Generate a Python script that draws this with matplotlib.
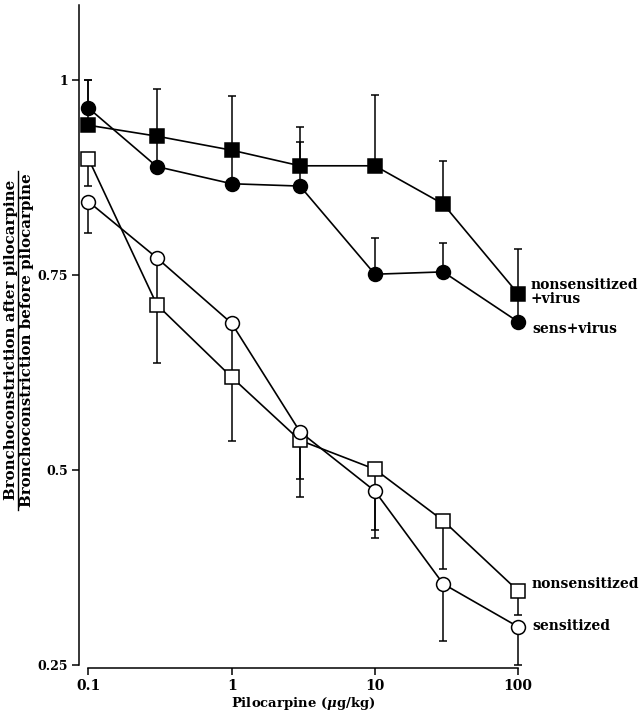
import matplotlib
matplotlib.use("Agg")
import matplotlib.pyplot as plt
from matplotlib.lines import Line2D

plt.rcParams['font.family'] = 'DejaVu Serif'
plt.rcParams['font.weight'] = 'bold'
plt.rcParams['mathtext.fontset'] = 'dejavuserif'

# pilocarpine dose (ug/kg)
dose = [0.1, 0.3, 1, 3, 10, 30, 100]

# nonsensitized + virus (filled squares), error bars up
ns_virus = [0.942, 0.928, 0.910, 0.890, 0.890, 0.841, 0.726]
ns_virus_err = [0.058, 0.060, 0.070, 0.050, 0.091, 0.055, 0.057]

# sensitized + virus (filled circles), error bars up
s_virus = [0.964, 0.889, 0.867, 0.864, 0.751, 0.754, 0.690]
s_virus_err = [0.036, 0.040, 0.050, 0.056, 0.046, 0.037, 0.030]

# nonsensitized (open squares), error bars down
ns = [0.899, 0.712, 0.619, 0.538, 0.501, 0.435, 0.345]
ns_err = [0.035, 0.075, 0.082, 0.073, 0.078, 0.062, 0.031]

# sensitized (open circles), error bars down
s = [0.844, 0.772, 0.688, 0.549, 0.473, 0.354, 0.299]
s_err = [0.040, 0.065, 0.070, 0.061, 0.060, 0.073, 0.049]

xticks = [0.1, 1, 10, 100]
xticklabels = ['0.1', '1', '10', '100']
yticks = [0.25, 0.5, 0.75, 1]
yticklabels = ['0.25', '0.5', '0.75', '1']

fig = plt.figure(figsize=(6.44, 7.2), dpi=100)
ax = fig.add_axes([79 / 644, 1 - 665 / 720, (640 - 79) / 644, (665 - 5) / 720])

series = [
    (ns_virus, ns_virus_err, 's', 'black', 'up'),
    (s_virus, s_virus_err, 'o', 'black', 'up'),
    (ns, ns_err, 's', 'white', 'down'),
    (s, s_err, 'o', 'white', 'down'),
]
for vals, err, mk, fc, direction in series:
    if direction == 'up':
        yerr = [[0] * len(err), err]
    else:
        yerr = [err, [0] * len(err)]
    ax.errorbar(dose, vals, yerr=yerr, fmt='none', ecolor='black',
                elinewidth=1.1, capsize=2.6, capthick=1.1, zorder=1)
    ax.plot(dose, vals, color='black', lw=1.2, zorder=2)
for vals, err, mk, fc, direction in series:
    ax.plot(dose, vals, ls='none', marker=mk, ms=10 if mk == 'o' else 9.5,
            mfc=fc, mec='black', mew=1.1, zorder=3)

ax.set_xscale('log')
ax.set_xlim(10 ** (-1 - 9.5 / 143.3), 10 ** (2 + 122 / 143.3))
ax.set_ylim(0.25, 1 + 75 / 780)
ax.minorticks_off()
ax.set_xticks(xticks)
ax.set_xticklabels(xticklabels, fontsize=9, fontweight='bold')
ax.set_yticks(yticks)
ax.set_yticklabels(yticklabels, fontsize=9, fontweight='bold')
ax.tick_params(direction='out', length=5, width=1.1, pad=3)
for side in ['top', 'right']:
    ax.spines[side].set_visible(False)
ax.spines['bottom'].set_bounds(0.1, 100)
ax.spines['left'].set_linewidth(1.1)
ax.spines['bottom'].set_linewidth(1.1)
ax.spines['bottom'].set_position(('outward', 2))

ax.set_xlabel('Pilocarpine ($\\mu$g/kg)', fontsize=9.5, fontweight='bold')
ax.xaxis.label.set_va('center')
ax.xaxis.set_label_coords(10 ** 0.5, -(703 - 665) / 660, transform=ax.get_xaxis_transform())

# curve labels
ax.text(123, 0.728, 'nonsensitized\n+virus', fontsize=10, fontweight='bold',
        va='center', ha='left', linespacing=0.95)
ax.text(125, 0.681, 'sens+virus', fontsize=10, fontweight='bold', va='center', ha='left')
ax.text(125, 0.354, 'nonsensitized', fontsize=10, fontweight='bold', va='center', ha='left')
ax.text(125, 0.300, 'sensitized', fontsize=10, fontweight='bold', va='center', ha='left')

# y label drawn as a fraction
fig.text(15.5 / 644, 1 - 340 / 720, 'Bronchoconstriction after pilocarpine', rotation=90,
         rotation_mode='anchor', fontsize=10.8, fontweight='bold', ha='center', va='baseline')
fig.text(20.5 / 644, 1 - 340 / 720, 'Bronchoconstriction before pilocarpine', rotation=90,
         rotation_mode='anchor', fontsize=10.8, fontweight='bold', ha='center', va='top')
fig.add_artist(Line2D([18 / 644, 18 / 644], [1 - 510 / 720, 1 - 171 / 720],
                      color='black', lw=1.0, transform=fig.transFigure))

fig.savefig('out.png', dpi=100)
